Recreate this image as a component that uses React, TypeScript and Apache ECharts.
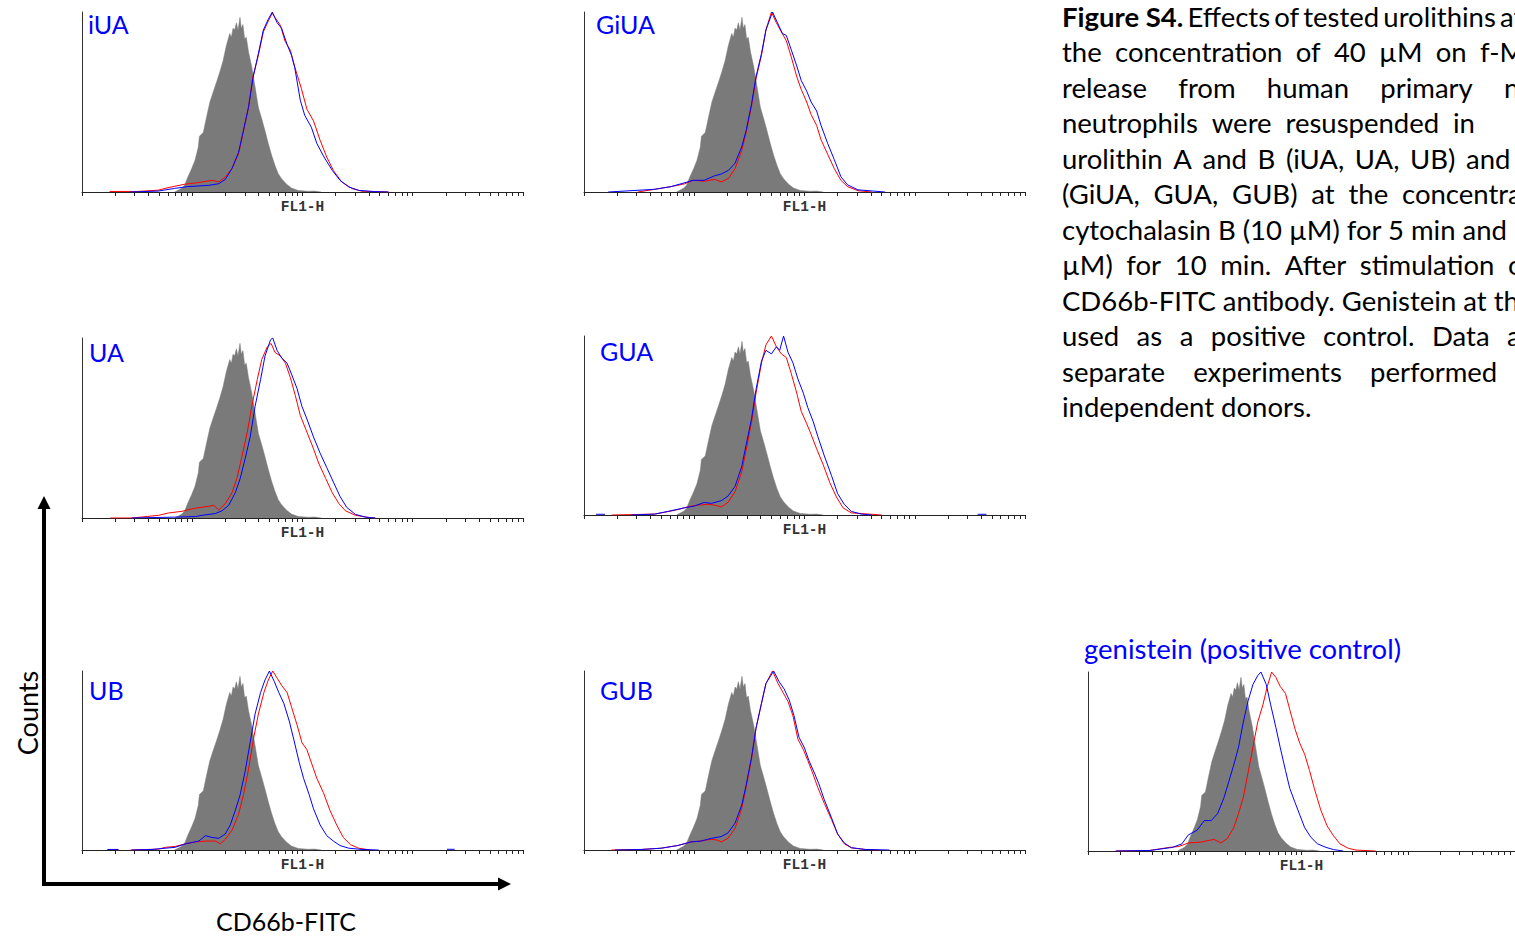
import React, { useEffect, useRef } from "react";
import * as echarts from "echarts";

type Pt = [number, number | null];

// x = log10(FL1-H), y = counts as % of the panel maximum
const CONTROL_GRAY: Pt[] = [
  [0.84, 0], [0.9, 2], [0.93, 3.7], [0.96, 8.3], [0.995, 13], [1.025, 17.6], [1.055, 25],
  [1.065, 31], [1.1, 33], [1.13, 41.7], [1.16, 50], [1.19, 55.6], [1.22, 61], [1.25, 66.7],
  [1.28, 73], [1.31, 81.5], [1.34, 88], [1.355, 86], [1.37, 91], [1.385, 90], [1.4, 94],
  [1.415, 90], [1.433, 97], [1.445, 91], [1.46, 93], [1.475, 85], [1.49, 86], [1.51, 78],
  [1.54, 69.4], [1.57, 58.3], [1.6, 47], [1.63, 40.7], [1.66, 34], [1.69, 26.9], [1.72, 20.4],
  [1.75, 14.8], [1.78, 10.2], [1.81, 7.4], [1.856, 4.3], [1.9, 2.2], [1.96, 0.9], [2.05, 0.4],
  [2.11, 0.5], [2.17, 0],
];

const RED_IUA: Pt[] = [
  [0.25, 0.3], [0.5, 0.3], [0.69, 1], [0.78, 2.4], [0.93, 4.3], [1.055, 5.2], [1.18, 6.5],
  [1.24, 5.6], [1.3, 8.3], [1.36, 13], [1.42, 21.3], [1.46, 32.4], [1.51, 47], [1.55, 64],
  [1.6, 76], [1.645, 89], [1.69, 95], [1.726, 99.4], [1.75, 97], [1.8, 92.6], [1.84, 84],
  [1.89, 78.7], [1.93, 69.4], [1.99, 57.4], [2.04, 46], [2.1, 39.5], [2.16, 28.7], [2.22, 19.4],
  [2.28, 12], [2.355, 5.6], [2.45, 1.9], [2.54, 0.4], [2.7, 0.2], [2.78, 0],
];
const BLUE_IUA: Pt[] = [
  [0.435, 0], [0.69, 0.5], [0.84, 2], [0.96, 3], [1.15, 3.7], [1.24, 4.6], [1.3, 7], [1.36, 13],
  [1.42, 22], [1.46, 33], [1.51, 47], [1.55, 63], [1.6, 77], [1.645, 90], [1.69, 96], [1.726, 100],
  [1.77, 94], [1.81, 91], [1.86, 82], [1.9, 76], [1.93, 69], [1.98, 51], [2.02, 42.6], [2.08, 36],
  [2.13, 27], [2.19, 20], [2.27, 12], [2.34, 6.5], [2.42, 2.8], [2.51, 0.9], [2.66, 0.2], [2.78, 0],
];

const RED_GIUA: Pt[] = [
  [0.49, 0], [0.64, 1.5], [0.79, 3], [0.91, 4.5], [0.99, 6.5], [1.09, 6], [1.185, 7], [1.245, 5.6],
  [1.31, 7.5], [1.37, 13], [1.43, 23], [1.47, 33], [1.52, 48], [1.56, 63], [1.61, 76], [1.65, 90],
  [1.7, 100], [1.745, 94], [1.79, 89], [1.835, 84], [1.88, 75], [1.93, 64], [1.97, 57], [2.02, 50],
  [2.06, 43], [2.11, 37], [2.15, 29], [2.21, 21], [2.27, 13], [2.33, 6.5], [2.39, 3], [2.485, 0.7],
  [2.61, 0],
];
const BLUE_GIUA: Pt[] = [
  [0.22, 0], [0.64, 1.5], [0.79, 3], [0.99, 6.5], [1.09, 6.5], [1.185, 9], [1.245, 10], [1.31, 12],
  [1.37, 16], [1.43, 25], [1.47, 34], [1.52, 49], [1.56, 64], [1.61, 77], [1.65, 90], [1.71, 100],
  [1.755, 94], [1.8, 88], [1.835, 87], [1.88, 79], [1.93, 70], [1.97, 62], [2.02, 56], [2.06, 50],
  [2.11, 45], [2.15, 37], [2.21, 27], [2.27, 18], [2.33, 8.5], [2.39, 4], [2.485, 1.2], [2.73, 0],
];

const RED_UA: Pt[] = [
  [0.257, 0], [0.45, 0], [0.695, 1.5], [0.785, 2.8], [0.905, 3.7], [1.03, 5.5], [1.15, 6.5],
  [1.195, 7], [1.24, 4.5], [1.3, 8], [1.36, 14], [1.405, 22], [1.45, 34], [1.5, 48], [1.54, 62],
  [1.59, 77], [1.63, 88], [1.68, 95], [1.715, 97], [1.75, 92], [1.8, 90], [1.845, 86], [1.89, 78],
  [1.935, 68], [1.98, 57], [2.025, 50], [2.09, 40], [2.15, 30], [2.21, 22], [2.27, 14], [2.33, 8],
  [2.39, 4], [2.48, 1.5], [2.6, 0.3], [2.66, 0],
];
const BLUE_UA: Pt[] = [
  [0.45, 0], [0.845, 0.5], [1.03, 0.8], [1.09, 1.5], [1.21, 2.5], [1.27, 4], [1.33, 7], [1.39, 14],
  [1.435, 22], [1.48, 33], [1.525, 45], [1.57, 62], [1.62, 77], [1.66, 90], [1.71, 99], [1.73, 100],
  [1.77, 93], [1.81, 89], [1.86, 86], [1.9, 80], [1.95, 72], [1.995, 62], [2.04, 55], [2.1, 45],
  [2.16, 36], [2.22, 28], [2.28, 20], [2.34, 12], [2.4, 6], [2.48, 2], [2.57, 0.5], [2.66, 0],
];

const RED_GUA: Pt[] = [
  [0.25, 0], [0.64, 0.5], [0.73, 1.5], [0.85, 3], [0.94, 4.5], [1.03, 5.5], [1.125, 6], [1.185, 5.5],
  [1.245, 4.5], [1.305, 7], [1.37, 13], [1.43, 24], [1.47, 36], [1.52, 52], [1.56, 68], [1.61, 85],
  [1.65, 95], [1.7, 100], [1.745, 94], [1.79, 90], [1.835, 88], [1.88, 79], [1.93, 68], [1.97, 58],
  [2.02, 51], [2.06, 45], [2.11, 37], [2.17, 28], [2.23, 18], [2.29, 10], [2.35, 4], [2.425, 1.2],
  [2.7, 0],
];
const BLUE_GUA: Pt[] = [
  [0.11, 0.4], [0.19, 0.4], [0.3, null], [0.43, 0], [0.64, 0.5], [0.76, 2], [0.91, 4], [1.0, 5],
  [1.09, 7], [1.155, 6.5], [1.245, 8], [1.305, 10.5], [1.37, 16], [1.43, 27], [1.47, 39], [1.52, 54],
  [1.56, 70], [1.61, 86], [1.65, 92], [1.7, 90], [1.745, 94], [1.775, 92], [1.81, 100], [1.85, 91],
  [1.895, 85], [1.94, 76], [1.99, 68], [2.03, 60], [2.08, 52], [2.12, 44], [2.18, 33], [2.245, 22],
  [2.3, 12], [2.36, 6], [2.425, 2], [2.515, 0.5], [2.61, 0], [3.0, null], [3.57, 0.4], [3.65, 0.4],
];

const RED_UB: Pt[] = [
  [0.24, 0.3], [0.33, 0.3], [0.38, null], [0.44, 0], [0.695, 0.5], [0.755, 1.5], [0.845, 2],
  [0.94, 3.5], [1.03, 4.5], [1.12, 5], [1.21, 5], [1.255, 3.5], [1.3, 6], [1.36, 11], [1.42, 20],
  [1.465, 31], [1.51, 45], [1.555, 62], [1.6, 76], [1.65, 88], [1.69, 95], [1.73, 100], [1.77, 96],
  [1.81, 92], [1.86, 88], [1.9, 80], [1.95, 70], [1.995, 60], [2.04, 56], [2.085, 48], [2.13, 40],
  [2.19, 32], [2.25, 22], [2.31, 14], [2.37, 7], [2.435, 3], [2.51, 1], [2.615, 0],
];
const BLUE_UB: Pt[] = [
  [0.23, 0.3], [0.33, 0.3], [0.38, null], [0.45, 0], [0.635, 0.3], [0.845, 1.5], [0.94, 3.5],
  [1.06, 5], [1.12, 8], [1.18, 7], [1.24, 6.5], [1.3, 9], [1.345, 14], [1.39, 22], [1.435, 31],
  [1.48, 44], [1.525, 60], [1.57, 76], [1.62, 88], [1.66, 95], [1.7, 100], [1.745, 94], [1.785, 88],
  [1.83, 82], [1.88, 72], [1.92, 62], [1.97, 49], [2.01, 40], [2.06, 31], [2.1, 23], [2.16, 14],
  [2.22, 8], [2.28, 5], [2.34, 2.5], [2.42, 1], [2.54, 0.3], [2.69, 0], [3.0, null], [3.31, 0.4],
  [3.38, 0.4],
];

const RED_GUB: Pt[] = [
  [0.25, 0], [0.52, 0.3], [0.7, 1], [0.85, 2.5], [0.97, 4.5], [1.06, 5], [1.155, 6], [1.21, 5.5],
  [1.245, 4.5], [1.305, 6.5], [1.37, 12], [1.43, 23], [1.47, 35], [1.52, 51], [1.56, 68], [1.61, 82],
  [1.65, 93], [1.71, 100], [1.76, 93], [1.805, 88], [1.85, 83], [1.895, 75], [1.94, 62], [1.99, 56],
  [2.03, 50], [2.08, 42], [2.12, 35], [2.18, 26], [2.245, 17], [2.3, 9], [2.36, 3.5], [2.425, 1.2],
  [2.55, 0.3], [2.67, 0],
];
const BLUE_GUB: Pt[] = [
  [0.28, 0], [0.52, 0.3], [0.7, 1], [0.85, 2.5], [0.97, 4.5], [1.06, 5], [1.155, 6.5], [1.245, 7.5],
  [1.305, 9.5], [1.37, 15], [1.43, 25], [1.47, 36], [1.52, 52], [1.56, 68], [1.61, 82], [1.65, 93],
  [1.72, 100], [1.77, 94], [1.815, 90], [1.86, 84], [1.905, 75], [1.95, 63], [2.0, 57], [2.04, 50],
  [2.09, 43], [2.13, 37], [2.18, 28], [2.245, 18], [2.3, 9], [2.36, 4], [2.425, 1.3], [2.55, 0.3],
  [2.77, 0],
];

const RED_GEN: Pt[] = [
  [0.26, 0], [0.58, 0.3], [0.76, 2], [0.85, 2.5], [0.94, 4.5], [1.06, 5], [1.18, 6.5], [1.245, 4.5],
  [1.305, 7], [1.365, 13], [1.41, 21], [1.455, 30], [1.5, 44], [1.545, 58], [1.59, 72], [1.64, 82],
  [1.68, 92], [1.72, 100], [1.76, 97], [1.8, 92], [1.85, 88], [1.89, 79], [1.94, 68], [1.985, 60],
  [2.03, 54], [2.075, 45], [2.12, 35], [2.18, 23], [2.24, 14], [2.3, 8.5], [2.36, 4], [2.44, 1.5],
  [2.51, 0.5], [2.695, 0],
];
const BLUE_GEN: Pt[] = [
  [0.26, 0], [0.58, 0.3], [0.79, 2], [0.88, 4], [0.94, 9], [1.02, 11.5], [1.09, 17], [1.155, 17],
  [1.215, 21], [1.275, 30], [1.32, 39], [1.365, 48], [1.41, 58], [1.455, 72], [1.5, 84], [1.545, 93],
  [1.59, 98], [1.62, 100], [1.67, 93], [1.71, 82], [1.76, 69], [1.8, 58], [1.85, 45], [1.89, 35],
  [1.94, 27], [1.985, 20], [2.03, 13], [2.09, 7.5], [2.15, 4], [2.23, 2], [2.3, 0.8], [2.39, 0],
];

const PANEL_NAMES = ["iUA", "GiUA", "UA", "GUA", "UB", "GUB", "genistein (positive control)"];
const REDS = [RED_IUA, RED_GIUA, RED_UA, RED_GUA, RED_UB, RED_GUB, RED_GEN];
const BLUES = [BLUE_IUA, BLUE_GIUA, BLUE_UA, BLUE_GUA, BLUE_UB, BLUE_GUB, BLUE_GEN];
const X_AXIS_NAME = "FL1-H";

const CAPTION_WORDS: string[][] = [
  ["Figure S4.", "Effects", "of", "tested", "urolithins", "at"],
  ["the", "concentration", "of", "40", "µM", "on", "f-MLF"],
  ["release", "from", "human", "primary", "neutrophils."],
  ["neutrophils", "were", "resuspended", "in"],
  ["urolithin", "A", "and", "B", "(iUA,", "UA,", "UB)", "and"],
  ["(GiUA,", "GUA,", "GUB)", "at", "the", "concentration"],
  ["cytochalasin B (10 µM) for 5 min and"],
  ["µM)", "for", "10", "min.", "After", "stimulation", "of"],
  ["CD66b-FITC antibody. Genistein at the"],
  ["used", "as", "a", "positive", "control.", "Data", "are"],
  ["separate", "experiments", "performed"],
  ["independent donors."],
];

// ---- layout (pixels) ----
const GRIDS = [
  { left: 82, top: 12, height: 180, tx: 88, ty: 24, fs: 25 },
  { left: 584, top: 12, height: 180, tx: 596, ty: 24, fs: 25 },
  { left: 82, top: 338, height: 180, tx: 89, ty: 352, fs: 25 },
  { left: 584, top: 336, height: 179, tx: 600, ty: 351, fs: 25 },
  { left: 82, top: 671, height: 179, tx: 89, ty: 690, fs: 25 },
  { left: 584, top: 671, height: 179, tx: 600, ty: 690, fs: 25 },
  { left: 1088, top: 672, height: 179, tx: 1084, ty: 648, fs: 27.5 },
];
const GRID_W = 441;
const CAPTION_LEFT = 1062;
// x where the last word of each justified line starts (null = not justified)
const CAPTION_LAST_X: (number | null)[] = [1500, 1480, 1504, 1453, 1466, 1402, null, 1508, null, 1507, 1370, null];
const CAPTION_FS = 27.5;
const FONT = "Lato, 'Noto Sans', sans-serif";

const toXY = (pts: Pt[]) => pts.map(([d, v]) => [Math.pow(10, d), v]);

export default function App() {
  const ref = useRef<HTMLDivElement>(null);
  useEffect(() => {
    if (!ref.current) return;
    const chart = echarts.init(ref.current, null, { renderer: "svg" });

    const cv = document.createElement("canvas");
    const ctx = cv.getContext("2d") as CanvasRenderingContext2D;
    const measure = (t: string, bold: boolean) => {
      ctx.font = `${bold ? "bold " : ""}${CAPTION_FS}px Lato`;
      return ctx.measureText(t).width;
    };

    const grid: any[] = [];
    const xAxis: any[] = [];
    const yAxis: any[] = [];
    const series: any[] = [];
    const graphic: any[] = [];

    GRIDS.forEach((g, i) => {
      grid.push({ left: g.left, top: g.top, width: GRID_W, height: g.height, containLabel: false });
      xAxis.push({
        type: "log",
        logBase: 10,
        min: 1,
        max: 10000,
        gridIndex: i,
        axisLine: { show: true, lineStyle: { color: "#222", width: 1 } },
        axisTick: { show: true, length: 4, lineStyle: { color: "#222", width: 1 } },
        minorTick: { show: true, splitNumber: 9, length: 4, lineStyle: { color: "#222", width: 1 } },
        axisLabel: { show: false },
        splitLine: { show: false },
        minorSplitLine: { show: false },
        name: X_AXIS_NAME,
        nameLocation: "middle",
        nameGap: 7,
        nameTextStyle: { fontFamily: "'Liberation Mono', 'DejaVu Sans Mono', monospace", fontSize: 14.5, fontWeight: "bold", color: "#333" },
      });
      yAxis.push({
        type: "value",
        min: 0,
        max: 100,
        gridIndex: i,
        axisLine: { show: true, lineStyle: { color: "#333", width: 1 } },
        axisTick: { show: false },
        axisLabel: { show: false },
        splitLine: { show: false },
      });
      series.push({
        type: "line",
        xAxisIndex: i,
        yAxisIndex: i,
        data: toXY(CONTROL_GRAY),
        symbol: "none",
        lineStyle: { color: "#7a7a7a", width: 0.5 },
        areaStyle: { color: "#7a7a7a", opacity: 1 },
        z: 1,
      });
      series.push({
        type: "line",
        xAxisIndex: i,
        yAxisIndex: i,
        data: toXY(REDS[i]),
        symbol: "none",
        lineStyle: { color: "#ff0000", width: 1 },
        z: 3,
      });
      series.push({
        type: "line",
        xAxisIndex: i,
        yAxisIndex: i,
        data: toXY(BLUES[i]),
        symbol: "none",
        lineStyle: { color: "#0000ff", width: 1 },
        z: 4,
      });
      graphic.push({
        type: "text",
        x: g.tx,
        y: g.ty,
        silent: true,
        style: {
          text: PANEL_NAMES[i],
          fill: "#0000ff",
          fontFamily: FONT,
          fontSize: g.fs,
          textAlign: "left",
          textVerticalAlign: "middle",
          verticalAlign: "middle",
        },
      });
    });

    // caption (justified lines: words spread between left edge and last word start)
    CAPTION_WORDS.forEach((words, li) => {
      const y = 16 + li * 35.5;
      const last = CAPTION_LAST_X[li];
      const widths = words.map((w, wi) => measure(w, li === 0 && wi === 0));
      let gap = 0;
      if (last !== null && words.length > 1) {
        const used = widths.slice(0, -1).reduce((a, b) => a + b, 0);
        gap = Math.max(4, (last - CAPTION_LEFT - used) / (words.length - 1));
      }
      let x = CAPTION_LEFT;
      words.forEach((w, wi) => {
        graphic.push({
          type: "text",
          x,
          y,
          silent: true,
          style: {
            text: w,
            fill: "#000",
            fontFamily: FONT,
            fontSize: CAPTION_FS,
            fontWeight: li === 0 && wi === 0 ? "bold" : "normal",
            textAlign: "left",
            textVerticalAlign: "middle",
            verticalAlign: "middle",
          },
        });
        x += widths[wi] + gap;
      });
    });

    // big axis arrows
    graphic.push(
      { type: "line", silent: true, shape: { x1: 44, y1: 886, x2: 44, y2: 506 }, style: { stroke: "#000", lineWidth: 4 } },
      { type: "polygon", silent: true, shape: { points: [[37.5, 509], [50.5, 509], [44, 496]] }, style: { fill: "#000" } },
      { type: "line", silent: true, shape: { x1: 42, y1: 884, x2: 500, y2: 884 }, style: { stroke: "#000", lineWidth: 4 } },
      { type: "polygon", silent: true, shape: { points: [[498, 877.5], [498, 890.5], [511, 884]] }, style: { fill: "#000" } },
      {
        type: "text",
        x: 27,
        y: 713,
        rotation: Math.PI / 2,
        silent: true,
        style: { text: "Counts", fill: "#000", fontFamily: FONT, fontSize: 27, textAlign: "center", textVerticalAlign: "middle", verticalAlign: "middle" },
      },
      {
        type: "text",
        x: 286,
        y: 921,
        silent: true,
        style: { text: "CD66b-FITC", fill: "#000", fontFamily: FONT, fontSize: 25, textAlign: "center", textVerticalAlign: "middle", verticalAlign: "middle" },
      }
    );

    chart.setOption({
      animation: false,
      backgroundColor: "#fff",
      grid,
      xAxis,
      yAxis,
      series,
      graphic,
    });
    return () => chart.dispose();
  }, []);
  return <div ref={ref} style={{ position: "absolute", left: 0, top: 0, width: 1515, height: 936 }} />;
}
